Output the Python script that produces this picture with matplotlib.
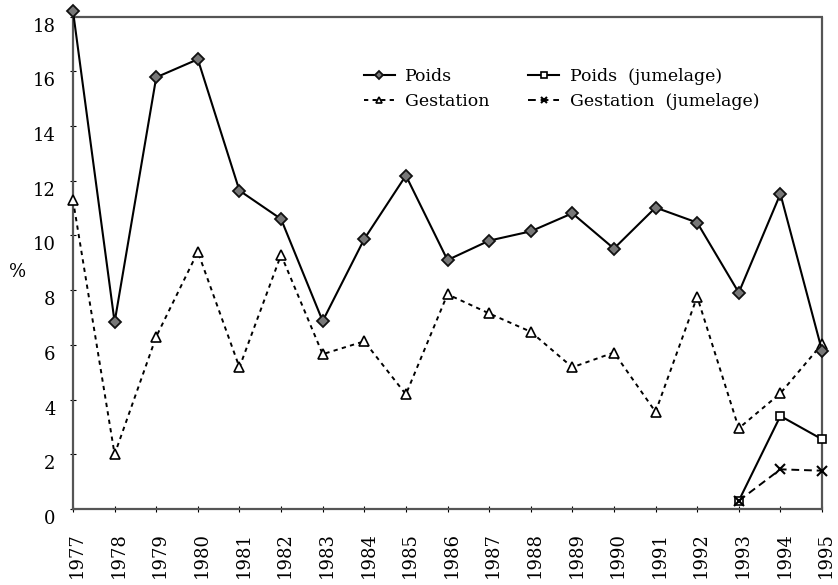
import matplotlib
matplotlib.use("Agg")
import matplotlib.pyplot as plt
from matplotlib.transforms import ScaledTranslation

years = list(range(1977, 1996))
poids = [18.2, 6.83, 15.78, 16.44, 11.64, 10.6, 6.87, 9.87, 12.19, 9.1,
         9.81, 10.15, 10.81, 9.52, 11.02, 10.47, 7.91, 11.52, 5.79]
gestation = [11.29, 2.0, 6.3, 9.4, 5.18, 9.29, 5.66, 6.13, 4.19, 7.85,
             7.15, 6.48, 5.18, 5.72, 3.55, 7.76, 2.95, 4.23, 6.03]
years_jum = [1993, 1994, 1995]
poids_jum = [0.3, 3.4, 2.55]
gestation_jum = [0.3, 1.45, 1.4]
yticks = list(range(0, 19, 2))

plt.rcParams['font.family'] = ['DejaVu Serif']

fig = plt.figure(figsize=(8.38, 5.85), dpi=100)
W, H = 838, 585
left, right, top, bottom = 73, 822, 16.6, 509
ax = fig.add_axes([left / W, 1 - bottom / H, (right - left) / W, (bottom - top) / H])

ax.plot(years, poids, color='black', lw=1.5, marker='D', markersize=6.5,
        markerfacecolor='#777777', markeredgecolor='#111111', markeredgewidth=1.3,
        label='Poids', clip_on=False, zorder=4)
ax.plot(years, gestation, color='black', lw=1.4, ls=(0, (2.2, 2.2)), marker='^',
        markersize=6.5, markerfacecolor='white', markeredgecolor='black',
        markeredgewidth=1.2, label='Gestation', clip_on=False, zorder=3)
ax.plot(years_jum, poids_jum, color='black', lw=1.5, marker='s', markersize=6,
        markerfacecolor='white', markeredgecolor='black', markeredgewidth=1.2,
        label='Poids  (jumelage)', clip_on=False, zorder=3)
ax.plot(years_jum, gestation_jum, color='black', lw=1.4, ls=(0, (4, 2.5)), marker='x',
        markersize=7, markeredgecolor='black', markeredgewidth=1.5,
        label='Gestation  (jumelage)', clip_on=False, zorder=3)

ax.set_xlim(1977, 1995)
ax.set_ylim(0, 18)
ax.set_xticks(years)
ax.set_xticklabels([str(y) for y in years], rotation=90, fontsize=13)
ax.set_yticks(yticks)
ax.set_yticklabels([str(v) for v in yticks], fontsize=13)
ax.tick_params(axis='both', direction='inout', length=5, width=0.8, colors='black')
ax.tick_params(axis='y', pad=10)
ax.tick_params(axis='x', pad=14)

# the reference's tick labels sit slightly below / right of their ticks
dy = ScaledTranslation(0, -8 / 100, fig.dpi_scale_trans)
dx = ScaledTranslation(4 / 100, 0, fig.dpi_scale_trans)
for lab in ax.get_yticklabels():
    lab.set_transform(lab.get_transform() + dy)
for lab in ax.get_xticklabels():
    lab.set_transform(lab.get_transform() + dx)

for s in ax.spines.values():
    s.set_linestyle((0, (1, 1)))
    s.set_linewidth(1.6)
    s.set_color('#555555')

fig.text(18 / W, 1 - 272 / H, '%', fontsize=13, ha='center', va='center')

handles, labels = ax.get_legend_handles_labels()
leg = ax.legend(handles, labels, ncol=2,
                frameon=False, fontsize=12.5, handlelength=1.8, handletextpad=0.6,
                columnspacing=2.2, labelspacing=0.5, markerscale=0.7,
                loc='upper left', bbox_to_anchor=(348 / W, 1 - 52 / H),
                bbox_transform=fig.transFigure)

fig.savefig('out.png', dpi=100)
